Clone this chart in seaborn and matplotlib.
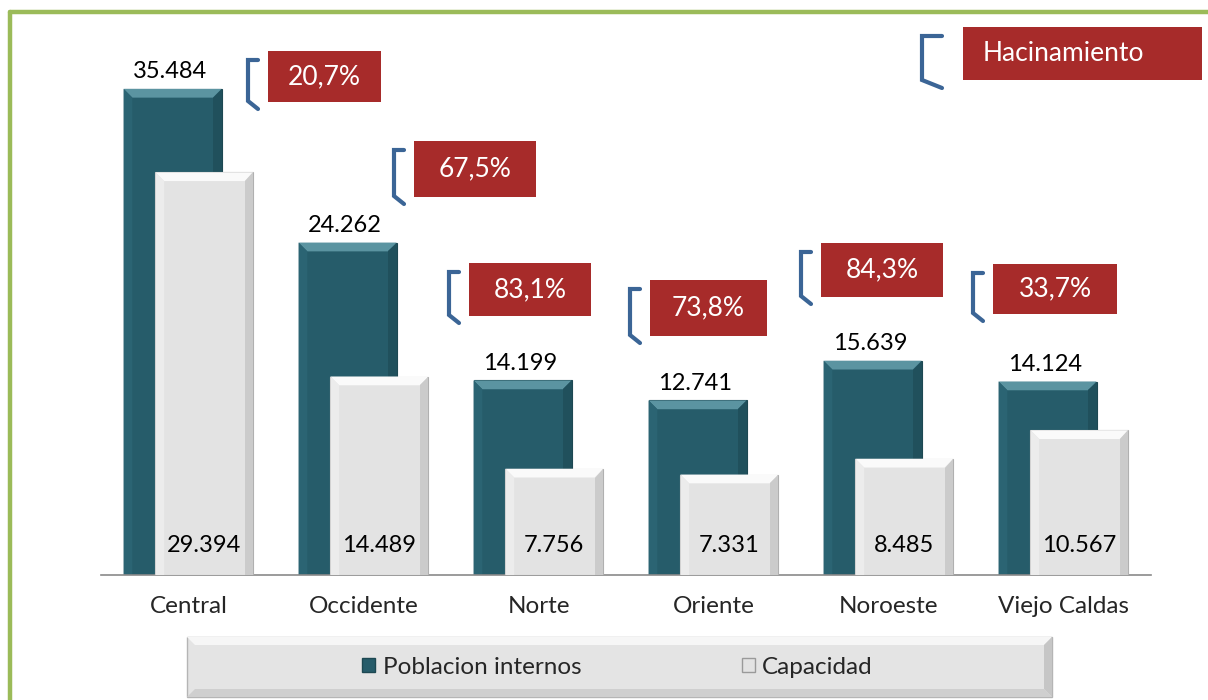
import matplotlib
matplotlib.use("Agg")
import matplotlib.pyplot as plt
import seaborn as sns
from matplotlib.patches import Rectangle, Polygon
from matplotlib.lines import Line2D

regiones = ['Central', 'Occidente', 'Norte', 'Oriente', 'Noroeste', 'Viejo Caldas']
poblacion = [35484, 24262, 14199, 12741, 15639, 14124]
capacidad = [29394, 14489, 7756, 7331, 8485, 10567]
hacinamiento = ['20,7%', '67,5%', '83,1%', '73,8%', '84,3%', '33,7%']

# red boxes, pixel coords (x0, y0, x1, y1) from the top-left corner
cajas = [(268, 51, 381, 102), (414, 141, 536, 197), (469, 263, 591, 316),
         (650, 280, 767, 336), (821, 243, 943, 297), (993, 264, 1117, 314)]

teal = '#265c6a'
gris = '#e3e3e3'
rojo = '#a72b2a'
azul = '#3b6596'
verde = '#9bbb59'

sns.set_style('white')
plt.rcParams['font.family'] = ['Lato', 'DejaVu Sans']
fs = 17
fs_caja = 19

W, H = 1208, 700
fig = plt.figure(figsize=(W / 100, H / 100), dpi=100)
ax = fig.add_axes([101 / W, 1 - 575 / H, 1050 / W, 548 / H])


def px(x, y):
    return x / W, 1 - y / H


sns.barplot(x=regiones, y=poblacion, color=teal, saturation=1, width=0.56,
            ax=ax, zorder=2)
for p in ax.patches[:6]:
    p.set_x(p.get_x() - 0.091)
sns.barplot(x=regiones, y=capacidad, color=gris, saturation=1, width=0.56,
            ax=ax, zorder=3)
for p in ax.patches[6:]:
    p.set_x(p.get_x() + 0.091)


def bevel(p, top, left, right, edge, z):
    x0, y0 = p.get_x(), 0
    x1, y1 = x0 + p.get_width(), p.get_height()
    dx, dy = 0.05, 640
    ax.add_patch(Polygon([(x0, y1), (x1, y1), (x1 - dx, y1 - dy), (x0 + dx, y1 - dy)],
                         closed=True, fc=top, ec='none', zorder=z))
    ax.add_patch(Polygon([(x0, y1), (x0 + dx, y1 - dy), (x0 + dx, y0), (x0, y0)],
                         closed=True, fc=left, ec='none', zorder=z))
    ax.add_patch(Polygon([(x1, y1), (x1, y0), (x1 - dx, y0), (x1 - dx, y1 - dy)],
                         closed=True, fc=right, ec='none', zorder=z))
    p.set_edgecolor(edge)
    p.set_linewidth(0.8)


for p in ax.patches[:6]:
    bevel(p, '#5b94a1', '#2b6473', '#20505c', '#1d4852', 2.1)
for p in list(ax.patches[6:12]):
    bevel(p, '#fafafa', '#ececec', '#cbcbcb', '#b0b0b0', 3.1)

# value labels
for p, v in zip(ax.patches[:6], poblacion):
    ax.annotate(f'{v:,}'.replace(',', '.'), (p.get_x() + p.get_width() / 2, v),
                xytext=(-2, 5), textcoords='offset points', ha='center', va='bottom',
                fontsize=fs, color='black')
for p, v in zip(ax.patches[6:12], capacidad):
    ax.annotate(f'{v:,}'.replace(',', '.'), (p.get_x() + p.get_width() / 2, 0),
                xytext=(0, 21.5), textcoords='offset points', ha='center', va='center',
                fontsize=fs, color='black', zorder=5)

ax.set_xlim(-0.5, 5.5)
ax.set_ylim(0, 40000)
ax.set_yticks([])
for s in ['left', 'top', 'right']:
    ax.spines[s].set_visible(False)
ax.spines['bottom'].set_color('#8a8a8a')
ax.spines['bottom'].set_linewidth(1.2)
ax.set_xticks(range(6))
ax.set_xticklabels(regiones, fontsize=fs + 0.5)
ax.tick_params(axis='x', which='major', length=0, pad=15)
ax.set_xticks([i - 0.5 for i in range(7)], minor=True)
ax.tick_params(axis='x', which='minor', length=7, width=1.2, color='#8a8a8a', direction='out')
ax.set_xlabel('')
ax.set_ylabel('')
ax.patch.set_alpha(0)


def bracket(xl, xr, yt, yb):
    xs = [xr, xl, xl, xr]
    ys = [yt, yt, yb - 8, yb]
    fx = [x / W for x in xs]
    fy = [1 - y / H for y in ys]
    fig.add_artist(Line2D(fx, fy, color=azul, lw=3, solid_joinstyle='miter'))


def caja(x0, y0, x1, y1, texto, ha='center', tx=None):
    fx0, fy1 = px(x0, y1)
    fig.add_artist(Rectangle((fx0, fy1), (x1 - x0) / W, (y1 - y0) / H,
                             transform=fig.transFigure, fc=rojo, ec='none'))
    if tx is None:
        tx = (x0 + x1) / 2
    fig.text(tx / W, 1 - (y0 + y1) / 2 / H, texto, ha=ha, va='center',
             color='white', fontsize=fs_caja)


for (x0, y0, x1, y1), t in zip(cajas, hacinamiento):
    bracket(x0 - 20, x0 - 10, y0 + 9, y1 + 7)
    caja(x0, y0, x1, y1, t)

bracket(922, 942, 36, 88)
caja(963, 27, 1202, 80, 'Hacinamiento', ha='left', tx=983)

# legend box
lx0, ly0, lx1, ly1 = 187, 637, 1052, 697
fig.add_artist(Rectangle(px(lx0, ly1), (lx1 - lx0) / W, (ly1 - ly0) / H,
                         transform=fig.transFigure, fc='#e4e4e4', ec='#b5b5b5', lw=1))
b = 8
fig.add_artist(Polygon([px(lx0, ly0), px(lx1, ly0), px(lx1 - b, ly0 + b), px(lx0 + b, ly0 + b)],
                       closed=True, transform=fig.transFigure, fc='#f6f6f6', ec='none'))
fig.add_artist(Polygon([px(lx1, ly0), px(lx1, ly1), px(lx1 - b, ly1 - b), px(lx1 - b, ly0 + b)],
                       closed=True, transform=fig.transFigure, fc='#c6c6c6', ec='none'))
fig.add_artist(Polygon([px(lx0, ly1), px(lx1, ly1), px(lx1 - b, ly1 - b), px(lx0 + b, ly1 - b)],
                       closed=True, transform=fig.transFigure, fc='#cfcfcf', ec='none'))

h1 = Rectangle((0, 0), 1, 1, fc=teal, ec='#1d4852')
h2 = Rectangle((0, 0), 1, 1, fc=gris, ec='#9a9a9a')
fig.legend([h1, h2], ['Poblacion internos', 'Capacidad'], loc='center left',
           bbox_to_anchor=px(362, 667), ncol=2, frameon=False, fontsize=17.5,
           handlelength=0.55, handleheight=0.55, handletextpad=0.3,
           columnspacing=6.6, borderpad=0, borderaxespad=0)

# green frame
fig.add_artist(Line2D([10 / W, 10 / W], [0, 1 - 11.5 / H], color=verde, lw=3.2))
fig.add_artist(Line2D([10 / W, 1], [1 - 11.5 / H, 1 - 11.5 / H], color=verde, lw=3.2))

fig.savefig('out.png', dpi=100, facecolor='white')
